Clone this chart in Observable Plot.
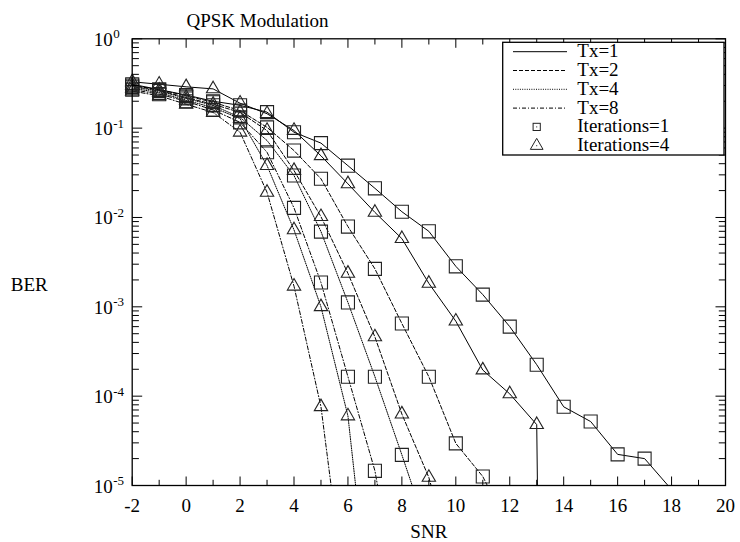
<!DOCTYPE html>
<html>
<head>
<meta charset="utf-8">
<script src="https://cdn.jsdelivr.net/npm/d3@7"></script>
<script src="https://cdn.jsdelivr.net/npm/@observablehq/plot@0.6"></script>
<style>
  html, body { margin: 0; padding: 0; background: #fff; }
  #chart svg { display: block; }
  #chart svg text { font-family: "Liberation Serif", "Times New Roman", Times, serif; }
</style>
</head>
<body>
<div id="chart"></div>
<script>
// ---- data ----
const snr = [-2, -1, 0, 1, 2, 3, 4, 5, 6, 7, 8, 9, 10, 11, 12, 13, 14, 15, 16, 17, 18];

const berTx1It1 = [0.31, 0.27, 0.235, 0.20, 0.18, 0.151, 0.090, 0.068, 0.038, 0.0212, 0.0116, 0.0070, 0.00284, 0.00137, 6.0e-4, 2.25e-4, 7.6e-5, 5.2e-5, 2.23e-5, 2.0e-5, 9e-6];
const berTx1It4 = [0.33, 0.31, 0.29, 0.275, 0.19, 0.145, 0.094, 0.049, 0.0238, 0.0114, 0.0058, 0.00183, 6.9e-4, 1.96e-4, 1.06e-4, 4.8e-5, 1e-30];
const berTx2It1 = [0.30, 0.27, 0.23, 0.195, 0.157, 0.102, 0.0561, 0.0271, 0.00791, 0.00266, 6.5e-4, 1.65e-4, 2.96e-5, 1.26e-5, 3.2e-6];
const berTx2It4 = [0.30, 0.265, 0.22, 0.185, 0.15, 0.094, 0.0335, 0.0102, 0.00237, 4.6e-4, 6.3e-5, 1.23e-5, 1e-6];
const berTx4It1 = [0.29, 0.26, 0.215, 0.18, 0.132, 0.0727, 0.0295, 0.00695, 0.00112, 1.65e-4, 2.2e-5, 2.8e-6];
const berTx4It4 = [0.28, 0.25, 0.205, 0.17, 0.128, 0.0381, 0.00726, 0.0010, 6.0e-5, 1.1e-7];
const berTx8It1 = [0.27, 0.24, 0.20, 0.16, 0.116, 0.0537, 0.0128, 0.00187, 1.65e-4, 1.46e-5, 3e-7];
const berTx8It4 = [0.26, 0.23, 0.185, 0.15, 0.09, 0.0191, 0.0017, 7.6e-5, 3.4e-7];

const txLabels = ["Tx=1", "Tx=2", "Tx=4", "Tx=8"];
const iterLabels = ["Iterations=1", "Iterations=4"];

const xTickValues = [-2, 0, 2, 4, 6, 8, 10, 12, 14, 16, 18, 20];
const xMinorValues = [-1, 1, 3, 5, 7, 9, 11, 13, 15, 17, 19];
const yTickExponents = [0, -1, -2, -3, -4, -5];

const titleText = "QPSK Modulation";
const xLabel = "SNR";
const yLabel = "BER";

// ---- build tables ----
const series = [
  {tx: "Tx=1", it: "Iterations=1", ber: berTx1It1},
  {tx: "Tx=1", it: "Iterations=4", ber: berTx1It4},
  {tx: "Tx=2", it: "Iterations=1", ber: berTx2It1},
  {tx: "Tx=2", it: "Iterations=4", ber: berTx2It4},
  {tx: "Tx=4", it: "Iterations=1", ber: berTx4It1},
  {tx: "Tx=4", it: "Iterations=4", ber: berTx4It4},
  {tx: "Tx=8", it: "Iterations=1", ber: berTx8It1},
  {tx: "Tx=8", it: "Iterations=4", ber: berTx8It4}
];
const rows = series.flatMap(s => s.ber.map((b, i) => ({snr: snr[i], ber: b, tx: s.tx, it: s.it, key: s.tx + "|" + s.it})));

const yMajor = yTickExponents.map(e => Math.pow(10, e));
const yMinor = [-5, -4, -3, -2, -1].flatMap(e => [2, 3, 4, 5, 6, 7, 8, 9].map(m => m * Math.pow(10, e)));

const dash = {"Tx=1": null, "Tx=2": "4,2", "Tx=4": "1,1.3", "Tx=8": "4,2,1,2"};
const FONT = "Liberation Serif, Times New Roman, Times, serif";

// tick symbols (length = r)
const tickSym = (dx, dy) => ({draw(ctx, size) { const l = Math.sqrt(size / Math.PI); ctx.moveTo(0, 0); ctx.lineTo(dx * l, dy * l); }});
const up = tickSym(0, -1), down = tickSym(0, 1), right = tickSym(1, 0), left = tickSym(-1, 0);

const tickStyle = {stroke: "black", strokeWidth: 1, fill: "none"};
const txt = {fontFamily: FONT, fill: "black"};

const chart = Plot.plot({
  width: 740,
  height: 542,
  marginLeft: 131.7,
  marginRight: 15,
  marginTop: 38.3,
  marginBottom: 57,
  style: {background: "white", color: "black", fontFamily: FONT, fontSize: "19px", overflow: "visible"},
  x: {domain: [-2, 20], axis: null},
  y: {type: "log", domain: [1e-5, 1], axis: null},
  marks: [
    // data lines
    ...txLabels.map(t => Plot.line(rows.filter(d => d.tx === t), {
      x: "snr", y: "ber", z: "key", stroke: "black", strokeWidth: 1,
      strokeDasharray: dash[t] || undefined, clip: true
    })),
    // markers
    Plot.dot(rows.filter(d => d.it === iterLabels[0] && d.ber >= 1e-5), {
      x: "snr", y: "ber", symbol: "square", r: 7.35, stroke: "#222", strokeWidth: 1.1, fill: "none"
    }),
    Plot.dot(rows.filter(d => d.it === iterLabels[1] && d.ber >= 1e-5), {
      x: "snr", y: "ber", symbol: "triangle", r: 4.95, stroke: "#222", strokeWidth: 1.1, fill: "none"
    }),
    // frame
    Plot.frame({stroke: "black", strokeWidth: 1.3}),
    // x ticks (inward, bottom + top)
    Plot.dot(xTickValues, {x: d => d, frameAnchor: "bottom", symbol: up, r: 9, ...tickStyle}),
    Plot.dot(xMinorValues, {x: d => d, frameAnchor: "bottom", symbol: up, r: 5.7, ...tickStyle}),
    Plot.dot(xTickValues, {x: d => d, frameAnchor: "top", symbol: down, r: 9, ...tickStyle}),
    Plot.dot(xMinorValues, {x: d => d, frameAnchor: "top", symbol: down, r: 5.7, ...tickStyle}),
    // y ticks (inward, left + right)
    Plot.dot(yMajor, {y: d => d, frameAnchor: "left", symbol: right, r: 10, ...tickStyle}),
    Plot.dot(yMinor, {y: d => d, frameAnchor: "left", symbol: right, r: 6.7, ...tickStyle}),
    Plot.dot(yMajor, {y: d => d, frameAnchor: "right", symbol: left, r: 10, ...tickStyle}),
    Plot.dot(yMinor, {y: d => d, frameAnchor: "right", symbol: left, r: 6.7, ...tickStyle}),
    // x tick labels
    Plot.text(xTickValues, {x: d => d, frameAnchor: "bottom", text: d => String(d), dy: 26.5, lineAnchor: "bottom", fontSize: 19, ...txt}),
    // y tick labels: 10 with superscript exponent
    Plot.text(yMajor, {y: d => d, frameAnchor: "left", text: () => "10", textAnchor: "end", dx: -19.4, dy: 7, lineAnchor: "bottom", fontSize: 19, ...txt}),
    Plot.text(yTickExponents, {y: e => Math.pow(10, e), frameAnchor: "left", text: e => String(e), textAnchor: "start", dx: -19, dy: -0.5, lineAnchor: "bottom", fontSize: 13, ...txt}),
    // titles
    Plot.text([titleText], {frameAnchor: "top-left", text: d => d, textAnchor: "start", dx: 54.3, dy: -11.6, lineAnchor: "bottom", fontSize: 19, ...txt}),
    Plot.text([xLabel], {frameAnchor: "bottom", text: d => d, dy: 52.5, lineAnchor: "bottom", fontSize: 19, ...txt}),
    Plot.text([yLabel], {frameAnchor: "left", text: d => d, textAnchor: "middle", dx: -103, dy: 29, lineAnchor: "bottom", fontSize: 19, ...txt})
  ]
});

// ---- legend (inside plot, top right) ----
const svg = d3.select(chart);
const lg = svg.append("g").attr("font-family", FONT).attr("font-size", 19).attr("text-anchor", "start");
lg.append("rect")
  .attr("x", 502.7).attr("y", 42.3).attr("width", 221.3).attr("height", 112.7)
  .attr("fill", "white").attr("stroke", "black").attr("stroke-width", 1.3);
const rowY = i => 51.7 + i * 18.8;
txLabels.forEach((t, i) => {
  const y = rowY(i);
  const ln = lg.append("line").attr("x1", 513).attr("x2", 567).attr("y1", y).attr("y2", y)
    .attr("stroke", "black").attr("stroke-width", 1);
  if (dash[t]) ln.attr("stroke-dasharray", dash[t]);
  lg.append("text").attr("x", 577.3).attr("y", y + 5.5).attr("fill", "black")
    .style("text-anchor", "start").text(t);
});
iterLabels.forEach((t, j) => {
  const y = rowY(4 + j);
  const cx = 536.7;
  if (j === 0) {
    lg.append("rect").attr("x", cx - 3.6).attr("y", y - 3.6).attr("width", 7.2).attr("height", 7.2)
      .attr("fill", "none").attr("stroke", "#222").attr("stroke-width", 1);
  } else {
    lg.append("path").attr("d", d3.symbol(d3.symbolTriangle, 70)()).attr("transform", `translate(${cx},${y})`)
      .attr("fill", "none").attr("stroke", "#222").attr("stroke-width", 1);
  }
  lg.append("rect").attr("x", cx - 0.5).attr("y", y - 0.5).attr("width", 1).attr("height", 1).attr("fill", "#222");
  lg.append("text").attr("x", 577.3).attr("y", y + 5.5).attr("fill", "black")
    .style("text-anchor", "start").text(t);
});

document.getElementById("chart").appendChild(chart);
</script>
</body>
</html>
